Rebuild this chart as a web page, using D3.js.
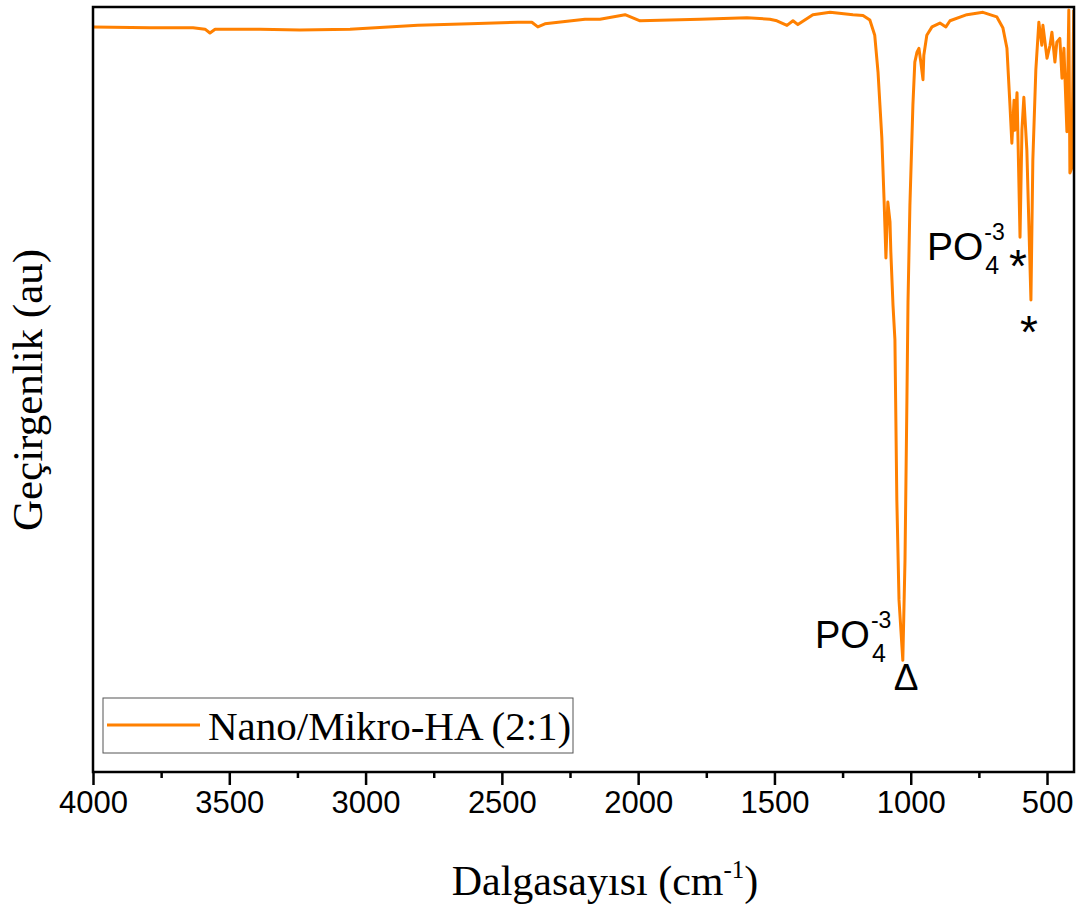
<!DOCTYPE html>
<html>
<head>
<meta charset="utf-8">
<script src="https://cdn.jsdelivr.net/npm/d3@7"></script>
<style>
  body { margin: 0; background: #fff; }
  svg { display: block; }
</style>
</head>
<body>
<div id="container"></div>
<script>
// wavenumbers (cm-1)
var wavenumbers = [4000, 3791, 3633, 3589, 3571, 3552, 3387, 3241, 3057, 2808, 2617, 2441, 2390, 2368, 2342,
    2195, 2140, 2048, 1993, 1773, 1601, 1517, 1491, 1454, 1432, 1414, 1359, 1296, 1212, 1175, 1150, 1132,
    1120, 1106, 1098, 1091, 1084, 1076, 1073, 1065, 1058, 1051, 1043, 1029, 1021, 1014, 1010, 1003, 992,
    985, 977, 970, 963, 955, 952, 941, 922, 893, 871, 856, 794, 735, 684, 662, 647, 636, 629, 621, 618,
    610, 599, 592, 585, 574, 559, 552, 541, 530, 519, 515, 500, 489, 482, 471, 464, 453, 445, 438, 427,
    420, 416, 409, 402];

// transmittance (arbitrary units)
var transmittance = [97.4, 97.3, 97.3, 97.1, 96.6, 97.1, 97.1, 97.0, 97.1, 97.6, 97.8, 98.0, 98.0, 97.4, 97.8,
    98.4, 98.4, 99.0, 98.2, 98.4, 98.6, 98.4, 98.2, 97.6, 98.2, 97.7, 99.0, 99.3, 99.0, 98.9, 98.3, 96.3,
    91.5, 82.9, 75.0, 67.2, 74.5, 71.9, 68.0, 61.0, 56.5, 35.6, 22.5, 14.6, 27.7, 48.6, 61.4, 74.1, 87.2,
    92.8, 94.1, 94.6, 92.8, 90.5, 93.7, 96.3, 97.4, 97.9, 97.4, 98.2, 99.0, 99.3, 98.7, 97.3, 94.6, 87.2,
    82.2, 87.8, 83.9, 88.8, 69.9, 83.9, 88.2, 81.3, 61.7, 80.0, 91.8, 98.0, 95.0, 97.6, 93.3, 95.0, 96.7,
    92.8, 95.4, 95.9, 90.7, 94.6, 83.7, 99.6, 78.3, 79.0, 99.6];

var majorTicks = [4000, 3500, 3000, 2500, 2000, 1500, 1000, 500];
var minorTicks = [3750, 3250, 2750, 2250, 1750, 1250, 750];
var seriesName = "Nano/Mikro-HA (2:1)";

const margin = { top: 7, right: 7, bottom: 133, left: 93 },
    width = 1081 - margin.left - margin.right,
    height = 905 - margin.top - margin.bottom;

var svg = d3.select("#container")
    .append("svg")
    .attr("width", 1081)
    .attr("height", 905);

var g = svg.append("g")
    .attr("transform", "translate(" + margin.left + "," + margin.top + ")");

var x = d3.scaleLinear().domain([4000, 401]).range([0, width]);
var y = d3.scaleLinear().domain([0, 100]).range([height, 0]);

g.append("clipPath").attr("id", "clip")
    .append("rect").attr("x", 0).attr("y", 0).attr("width", width).attr("height", height);

var data = wavenumbers.map(function (w, i) { return { wn: w, t: transmittance[i] }; });

var line = d3.line()
    .x(function (d) { return x(d.wn); })
    .y(function (d) { return y(d.t); });

g.append("path")
    .datum(data)
    .attr("clip-path", "url(#clip)")
    .attr("fill", "none")
    .attr("stroke", "#ff8000")
    .attr("stroke-width", 3)
    .attr("stroke-linejoin", "round")
    .attr("d", line);

// minor ticks
g.append("g")
    .attr("transform", "translate(0," + height + ")")
    .call(d3.axisBottom(x).tickValues(minorTicks).tickSize(6).tickFormat(""))
    .call(function (a) { a.select(".domain").remove(); })
    .selectAll("line").attr("stroke", "#000").attr("stroke-width", 2.5);

// major ticks
var xAxis = g.append("g")
    .attr("transform", "translate(0," + height + ")")
    .call(d3.axisBottom(x).tickValues(majorTicks).tickSize(13).tickFormat(d3.format("d")));
xAxis.select(".domain").remove();
xAxis.selectAll("line").attr("stroke", "#000").attr("stroke-width", 2.5);
xAxis.selectAll("text")
    .attr("y", 41).attr("dy", null)
    .attr("fill", "#000")
    .style("font-family", "'Liberation Sans', Arial, sans-serif")
    .style("font-size", "31px");

// frame
g.append("rect")
    .attr("x", 0).attr("y", 0).attr("width", width).attr("height", height)
    .attr("fill", "none").attr("stroke", "#000").attr("stroke-width", 2.5);

// axis titles
var xt = svg.append("text")
    .attr("x", 605).attr("y", 895)
    .attr("text-anchor", "middle")
    .style("font-family", "'Liberation Serif', 'Times New Roman', serif")
    .style("font-size", "42px");
xt.append("tspan").text("Dalgasayısı (cm");
xt.append("tspan").attr("dy", -17).style("font-size", "25px").text("-1");
xt.append("tspan").attr("dy", 17).text(")");

svg.append("text")
    .attr("transform", "translate(42,390) rotate(-90)")
    .attr("text-anchor", "middle")
    .style("font-family", "'Liberation Serif', 'Times New Roman', serif")
    .style("font-size", "43px")
    .text("Geçirgenlik (au)");

// peak labels
function ionLabel(px, py, size)
{
    var t = svg.append("g").style("font-family", "'Liberation Sans', Arial, sans-serif");
    var main = t.append("text").attr("x", px).attr("y", py).style("font-size", size + "px").text("PO");
    var w = main.node().getComputedTextLength();
    t.append("text").attr("x", px + w + 2).attr("y", py + 14).style("font-size", "25px").text("4");
    t.append("text").attr("x", px + w + 1).attr("y", py - 20).style("font-size", "23px").text("-3");
}
ionLabel(927, 260, 39);
ionLabel(815, 648, 38);

svg.append("text").attr("x", 1018).attr("y", 282).attr("text-anchor", "middle")
    .style("font-family", "'Liberation Sans', Arial, sans-serif").style("font-size", "46px").text("*");
svg.append("text").attr("x", 1029).attr("y", 348).attr("text-anchor", "middle")
    .style("font-family", "'Liberation Sans', Arial, sans-serif").style("font-size", "46px").text("*");
svg.append("text").attr("x", 906).attr("y", 690).attr("text-anchor", "middle")
    .style("font-family", "'Liberation Sans', Arial, sans-serif").style("font-size", "37px")
    .style("font-weight", "300").text("Δ");

// legend
var legend = svg.append("g");
legend.append("rect")
    .attr("x", 103).attr("y", 698).attr("width", 470).attr("height", 55)
    .attr("fill", "#fff").attr("stroke", "#555").attr("stroke-width", 1);
legend.append("line")
    .attr("x1", 107).attr("x2", 200).attr("y1", 725).attr("y2", 725)
    .attr("stroke", "#ff8000").attr("stroke-width", 3);
legend.append("text")
    .attr("x", 208).attr("y", 740)
    .style("font-family", "'Liberation Serif', 'Times New Roman', serif")
    .style("font-size", "41px")
    .text(seriesName);
</script>
</body>
</html>
